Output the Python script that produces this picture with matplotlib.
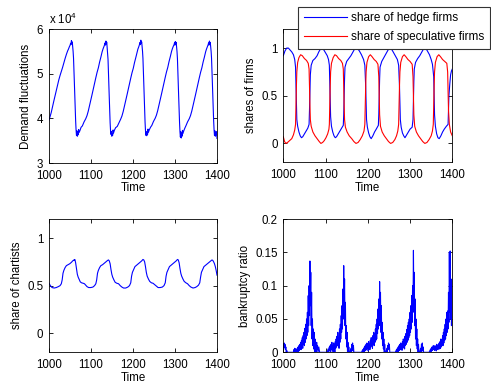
import matplotlib
matplotlib.use("Agg")
import matplotlib.pyplot as plt
from matplotlib.ticker import FuncFormatter

plt.rcParams['font.family'] = ['Liberation Sans', 'DejaVu Sans']
plt.rcParams['font.size'] = 8.3

# ---------------- demand fluctuations (raw units) ----------------
demand_time = [
    1000, 1003, 1006, 1009, 1012, 1015, 1018, 1021, 1024, 1027, 1030, 1033, 1036, 1039, 1042, 1045,
    1047, 1049, 1051, 1052, 1053, 1054,
    1055, 1056, 1057, 1058, 1059, 1060, 1061, 1062, 1063, 1064, 1065, 1066, 1067, 1068, 1069, 1070, 1071, 1072,
    1074, 1077,
    1080, 1084, 1088, 1091, 1094, 1097, 1100, 1103, 1106, 1109, 1112, 1115, 1118, 1121, 1124, 1127,
    1129, 1131, 1133, 1134, 1135, 1136,
    1137, 1138, 1139, 1140, 1141, 1142, 1143, 1144, 1145, 1146, 1147, 1148, 1149, 1150, 1151, 1152, 1153, 1154,
    1156, 1159,
    1163, 1167, 1171, 1174, 1177, 1180, 1183, 1186, 1189, 1192, 1195, 1198, 1201, 1204, 1207, 1210,
    1212, 1214, 1216, 1217, 1218, 1219,
    1220, 1221, 1222, 1223, 1224, 1225, 1226, 1227, 1228, 1229, 1230, 1231, 1232, 1233, 1234, 1235, 1236, 1237,
    1239, 1242,
    1245, 1249, 1253, 1256, 1259, 1262, 1265, 1268, 1271, 1274, 1277, 1280, 1283, 1286, 1289, 1292,
    1294, 1296, 1298, 1299, 1300, 1301,
    1302, 1303, 1304, 1305, 1306, 1307, 1308, 1309, 1310, 1311, 1312, 1313, 1314, 1315, 1316, 1317, 1318, 1319,
    1321, 1324,
    1326, 1330, 1334, 1337, 1340, 1343, 1346, 1349, 1352, 1355, 1358, 1361, 1364, 1367, 1370, 1373,
    1375, 1377, 1379, 1380, 1381, 1382,
    1383, 1384, 1385, 1386, 1387, 1388, 1389, 1390, 1391, 1392, 1393, 1394, 1395, 1396, 1397, 1398, 1399, 1400,
]
demand = [
    39500, 40300, 41300, 42600, 43800, 45000, 46200, 47400, 48600, 49600, 50500, 51400, 52400, 53400, 54300, 55100,
    55500, 56000, 56400, 56800, 56500, 57400,
    56800, 57100, 56000, 55000, 53500, 51000, 48000, 45000, 42000, 39500, 37500, 36200, 37200, 36000, 36800, 36300, 37500, 36800,
    37200, 38000,
    38300, 39200, 39900, 40600, 41600, 42800, 44000, 45300, 46600, 47900, 49100, 50300, 51300, 52600, 53700, 54900,
    55500, 56000, 56500, 56900, 56400, 57300,
    56700, 57000, 55800, 54800, 53200, 50500, 47500, 44500, 41500, 39000, 37200, 36400, 37000, 36000, 36600, 36200, 37400, 36700,
    37300, 37900,
    38200, 39000, 39800, 40500, 41500, 42700, 44000, 45200, 46500, 47800, 49000, 50200, 51200, 52500, 53600, 54800,
    55500, 56000, 56600, 57000, 56500, 57500,
    56800, 57100, 56000, 55000, 53400, 50800, 47800, 44800, 41800, 39200, 37300, 36200, 37000, 36100, 36800, 36400, 37600, 36900,
    37400, 38000,
    38400, 39300, 40000, 40700, 41700, 42900, 44100, 45400, 46700, 48000, 49200, 50400, 51400, 52700, 53800, 55000,
    55600, 56100, 56500, 56900, 56400, 57200,
    56700, 57000, 55900, 54900, 53300, 50600, 47600, 44600, 41600, 39000, 37000, 35800, 37000, 35600, 36600, 36000, 37300, 36600,
    37200, 37900,
    38300, 39200, 39900, 40600, 41600, 42800, 44000, 45300, 46600, 47900, 49100, 50300, 51300, 52600, 53700, 54900,
    55500, 56000, 56500, 56900, 56400, 57300,
    56700, 57000, 56000, 55000, 53500, 51000, 48000, 45000, 42000, 39500, 37500, 36200, 37200, 36000, 36800, 36300, 37000, 35500,
]

# ---------------- shares of hedge / speculative firms ----------------
hedge_time = [
    1000, 1004, 1008, 1012, 1016, 1020, 1024, 1027, 1029, 1030, 1031, 1032, 1034, 1037, 1040, 1043, 1046, 1050,
    1054, 1058, 1061, 1062, 1063, 1064, 1066, 1070, 1075, 1080, 1084, 1088, 1092, 1096, 1100, 1104, 1107, 1109,
    1110, 1111, 1112, 1114, 1117, 1120, 1123, 1126, 1130, 1134, 1138, 1142, 1143, 1144, 1145, 1146, 1150, 1155,
    1160, 1165, 1170, 1175, 1180, 1185, 1190, 1193, 1195, 1196, 1197, 1199, 1202, 1205, 1208, 1212, 1216, 1220,
    1225, 1226, 1227, 1228, 1229, 1233, 1238, 1243, 1248, 1252, 1256, 1260, 1265, 1270, 1273, 1275, 1276, 1277,
    1279, 1282, 1285, 1288, 1292, 1296, 1300, 1305, 1307, 1308, 1309, 1310, 1313, 1318, 1323, 1328, 1333, 1337,
    1341, 1346, 1350, 1353, 1356, 1357, 1358, 1360, 1363, 1366, 1369, 1373, 1377, 1381, 1386, 1390, 1391, 1392,
    1394, 1396, 1398, 1400,
]
hedge_share = [
    0.92, 0.97, 1.0, 1.0, 0.98, 0.96, 0.93, 0.88, 0.8, 0.6, 0.4, 0.25, 0.18, 0.12, 0.08, 0.06, 0.07, 0.1,
    0.13, 0.16, 0.2, 0.35, 0.55, 0.72, 0.82, 0.87, 0.89, 0.92, 0.96, 0.99, 1.0, 0.98, 0.95, 0.92, 0.88, 0.82,
    0.65, 0.45, 0.28, 0.18, 0.12, 0.08, 0.06, 0.07, 0.1, 0.13, 0.16, 0.19, 0.3, 0.5, 0.68, 0.8, 0.86, 0.89,
    0.92, 0.96, 1.0, 1.0, 0.97, 0.93, 0.88, 0.82, 0.6, 0.4, 0.25, 0.17, 0.11, 0.07, 0.05, 0.08, 0.12, 0.15,
    0.19, 0.3, 0.5, 0.68, 0.8, 0.86, 0.9, 0.94, 0.98, 1.0, 0.99, 0.96, 0.92, 0.88, 0.82, 0.6, 0.4, 0.25,
    0.17, 0.11, 0.08, 0.06, 0.09, 0.12, 0.15, 0.17, 0.25, 0.45, 0.65, 0.78, 0.85, 0.89, 0.92, 0.96, 1.0, 1.0,
    0.97, 0.93, 0.88, 0.83, 0.7, 0.5, 0.3, 0.18, 0.1, 0.06, 0.05, 0.08, 0.12, 0.15, 0.18, 0.2, 0.35, 0.5,
    0.62, 0.72, 0.76, 0.78,
]
spec_time = [
    1000, 1003, 1006, 1010, 1015, 1020, 1024, 1027, 1029, 1030, 1031, 1032, 1034, 1037, 1041, 1045, 1050, 1055,
    1059, 1061, 1062, 1063, 1064, 1066, 1070, 1075, 1080, 1085, 1089, 1093, 1097, 1101, 1105, 1108, 1109, 1110,
    1111, 1112, 1114, 1118, 1122, 1126, 1131, 1136, 1140, 1142, 1143, 1144, 1145, 1147, 1151, 1156, 1162, 1167,
    1172, 1177, 1182, 1187, 1191, 1193, 1194, 1195, 1196, 1198, 1202, 1206, 1210, 1215, 1220, 1224, 1226, 1227,
    1228, 1230, 1234, 1239, 1244, 1249, 1254, 1259, 1264, 1268, 1271, 1273, 1274, 1275, 1276, 1278, 1282, 1286,
    1290, 1295, 1300, 1305, 1307, 1308, 1309, 1311, 1315, 1320, 1325, 1330, 1335, 1340, 1345, 1350, 1353, 1355,
    1356, 1357, 1358, 1360, 1364, 1368, 1372, 1377, 1382, 1387, 1389, 1390, 1391, 1393, 1396, 1400,
]
spec_share = [
    0.07, 0.02, 0.0, 0.01, 0.03, 0.05, 0.09, 0.14, 0.2, 0.4, 0.6, 0.75, 0.85, 0.9, 0.93, 0.92, 0.89, 0.87,
    0.84, 0.78, 0.6, 0.4, 0.25, 0.18, 0.12, 0.08, 0.05, 0.02, 0.0, 0.01, 0.03, 0.06, 0.1, 0.15, 0.2, 0.4,
    0.6, 0.75, 0.84, 0.9, 0.93, 0.92, 0.89, 0.87, 0.84, 0.78, 0.6, 0.4, 0.25, 0.17, 0.12, 0.08, 0.05, 0.02,
    0.0, 0.01, 0.04, 0.08, 0.13, 0.2, 0.4, 0.6, 0.75, 0.85, 0.91, 0.93, 0.91, 0.88, 0.86, 0.83, 0.7, 0.5,
    0.3, 0.18, 0.12, 0.08, 0.05, 0.02, 0.0, 0.01, 0.04, 0.08, 0.13, 0.2, 0.4, 0.6, 0.75, 0.85, 0.91, 0.93,
    0.91, 0.88, 0.86, 0.83, 0.7, 0.5, 0.3, 0.18, 0.12, 0.08, 0.05, 0.02, 0.0, 0.01, 0.04, 0.08, 0.13, 0.2,
    0.4, 0.6, 0.75, 0.85, 0.91, 0.93, 0.91, 0.88, 0.86, 0.84, 0.75, 0.55, 0.35, 0.2, 0.12, 0.08,
]

# ---------------- share of chartists ----------------
chartist_time = [
    1000, 1004, 1008, 1013, 1018, 1023, 1027, 1030, 1032, 1034, 1036, 1039, 1042, 1046, 1050, 1054, 1057, 1060,
    1061, 1062, 1063, 1064, 1066, 1068, 1070, 1072, 1075, 1078, 1082, 1085, 1088, 1091, 1095, 1100, 1105, 1109,
    1112, 1114, 1116, 1118, 1121, 1124, 1128, 1132, 1136, 1140, 1142, 1144, 1146, 1148, 1150, 1152, 1155, 1158,
    1162, 1166, 1170, 1174, 1178, 1183, 1188, 1192, 1195, 1197, 1199, 1202, 1205, 1209, 1213, 1217, 1221, 1224,
    1226, 1228, 1230, 1232, 1234, 1237, 1240, 1244, 1248, 1252, 1256, 1260, 1265, 1270, 1274, 1277, 1279, 1281,
    1284, 1287, 1291, 1295, 1299, 1303, 1306, 1308, 1310, 1312, 1314, 1316, 1319, 1322, 1326, 1330, 1334, 1338,
    1343, 1348, 1352, 1356, 1359, 1361, 1363, 1366, 1369, 1373, 1377, 1381, 1385, 1388, 1390, 1392, 1394, 1396,
    1398, 1400,
]
chartist_share = [
    0.53, 0.5, 0.48, 0.475, 0.48, 0.49, 0.5, 0.52, 0.56, 0.63, 0.66, 0.69, 0.71, 0.72, 0.73, 0.745, 0.76, 0.77,
    0.765, 0.775, 0.76, 0.74, 0.68, 0.62, 0.59, 0.57, 0.54, 0.53, 0.525, 0.52, 0.505, 0.49, 0.48, 0.48, 0.485, 0.5,
    0.52, 0.56, 0.63, 0.66, 0.69, 0.71, 0.72, 0.735, 0.75, 0.765, 0.77, 0.76, 0.73, 0.67, 0.62, 0.59, 0.56, 0.535,
    0.525, 0.52, 0.5, 0.485, 0.475, 0.475, 0.485, 0.5, 0.53, 0.6, 0.64, 0.67, 0.7, 0.715, 0.73, 0.745, 0.76, 0.775,
    0.77, 0.75, 0.7, 0.64, 0.6, 0.57, 0.545, 0.53, 0.525, 0.51, 0.495, 0.48, 0.48, 0.485, 0.5, 0.53, 0.6, 0.64,
    0.67, 0.7, 0.715, 0.73, 0.745, 0.76, 0.775, 0.77, 0.74, 0.68, 0.63, 0.6, 0.57, 0.545, 0.53, 0.52, 0.5, 0.485,
    0.475, 0.48, 0.49, 0.505, 0.53, 0.59, 0.64, 0.67, 0.7, 0.715, 0.73, 0.745, 0.76, 0.77, 0.765, 0.75, 0.73, 0.7,
    0.66, 0.61,
]

# ---------------- bankruptcy ratio ----------------
bankrupt_time = [
    1000, 1001, 1002, 1003, 1004, 1005, 1006, 1007, 1008, 1010, 1015, 1020, 1024, 1025, 1026, 1027, 1028, 1029, 1030,
    1031, 1032, 1033, 1034, 1035, 1036, 1037, 1038, 1039, 1040, 1041, 1042, 1043, 1044, 1045, 1046, 1047, 1048, 1049,
    1050, 1051, 1052, 1053, 1054, 1055, 1056, 1057, 1058, 1059, 1060, 1061, 1062, 1063, 1064, 1065, 1066, 1067, 1068,
    1069, 1070, 1071, 1072, 1073, 1074, 1075, 1076, 1077, 1078, 1079, 1080, 1081, 1082, 1084, 1086,
    1088, 1092, 1095, 1100, 1104, 1106, 1107, 1109, 1110, 1111, 1112, 1113, 1114, 1115, 1116, 1117, 1118,
    1119, 1120, 1121, 1122, 1123, 1124, 1125, 1126, 1127, 1128, 1129, 1130, 1131, 1132, 1133, 1134, 1135, 1136, 1137,
    1138, 1139, 1140, 1141, 1142, 1143, 1144, 1145, 1146, 1147, 1148, 1149, 1150, 1151, 1152, 1153, 1154, 1155, 1156,
    1158, 1160, 1161, 1162, 1163, 1164, 1165, 1166, 1167, 1170,
    1175, 1180, 1185, 1188, 1189, 1190, 1191, 1192, 1193, 1194, 1195,
    1196, 1197, 1198, 1199, 1200, 1201, 1202, 1203, 1204, 1205, 1206, 1207, 1208, 1209, 1210, 1211, 1212, 1213, 1214,
    1215, 1216, 1217, 1218, 1219, 1220, 1221, 1222, 1223, 1224, 1225, 1226, 1227, 1228, 1229, 1230, 1231, 1232, 1233,
    1234, 1235, 1236, 1237, 1238, 1239, 1240, 1241, 1243, 1245, 1246, 1247, 1248, 1249, 1250, 1251, 1252, 1255,
    1260, 1265, 1268, 1269, 1270, 1271, 1272, 1273, 1274, 1275,
    1276, 1277, 1278, 1279, 1280, 1281, 1282, 1283, 1284, 1285, 1286, 1287, 1288, 1289, 1290, 1291, 1292, 1293, 1294,
    1295, 1296, 1297, 1298, 1299, 1300, 1301, 1302, 1303, 1304, 1305, 1306, 1307, 1308, 1309, 1310, 1311, 1312, 1313,
    1314, 1315, 1316, 1317, 1318, 1319, 1320, 1321, 1323, 1325, 1326, 1327, 1328, 1329, 1330, 1331, 1332, 1335,
    1340, 1345, 1348, 1349, 1350, 1351, 1352, 1353, 1354,
    1355, 1356, 1357, 1358, 1359, 1360, 1361, 1362, 1363, 1364, 1365, 1366, 1367, 1368, 1369, 1370, 1371, 1372, 1373,
    1374, 1375, 1376, 1377, 1378, 1379, 1380, 1381, 1382, 1383, 1384, 1385, 1386, 1387, 1388, 1389, 1390, 1391, 1392,
    1393, 1394, 1395, 1396, 1397, 1398, 1399, 1400,
]
bankrupt_ratio = [
    0.012, 0.006, 0.014, 0.008, 0.012, 0.004, 0.008, 0.0, 0.003, 0.0, 0.0, 0.0, 0.0, 0.004, 0.0, 0.006, 0.0, 0.005, 0.0,
    0.004, 0.0, 0.006, 0.002, 0.008, 0.0, 0.01, 0.003, 0.012, 0.005, 0.015, 0.004, 0.018, 0.008, 0.022, 0.006, 0.025, 0.012, 0.03,
    0.01, 0.036, 0.015, 0.042, 0.02, 0.05, 0.025, 0.06, 0.03, 0.085, 0.04, 0.1, 0.055, 0.137, 0.07, 0.12, 0.04, 0.09, 0.02,
    0.05, 0.01, 0.035, 0.005, 0.03, 0.0, 0.02, 0.0, 0.012, 0.0, 0.015, 0.004, 0.01, 0.0, 0.008, 0.0,
    0.0, 0.0, 0.0, 0.0, 0.0, 0.005, 0.0, 0.008, 0.002, 0.01, 0.0, 0.012, 0.004, 0.015, 0.003, 0.01, 0.0,
    0.014, 0.004, 0.012, 0.0, 0.016, 0.006, 0.02, 0.008, 0.024, 0.01, 0.03, 0.012, 0.022, 0.006, 0.035, 0.015, 0.042, 0.02, 0.055,
    0.03, 0.07, 0.035, 0.095, 0.05, 0.13, 0.06, 0.11, 0.04, 0.075, 0.02, 0.04, 0.008, 0.03, 0.0, 0.015, 0.0, 0.008, 0.0,
    0.0, 0.006, 0.0, 0.012, 0.004, 0.014, 0.002, 0.01, 0.0, 0.0,
    0.0, 0.0, 0.0, 0.004, 0.0, 0.006, 0.0, 0.008, 0.002, 0.01, 0.003,
    0.012, 0.004, 0.014, 0.006, 0.01, 0.002, 0.016, 0.006, 0.012, 0.004, 0.018, 0.008, 0.022, 0.01, 0.02, 0.006, 0.025, 0.012, 0.03,
    0.01, 0.028, 0.015, 0.035, 0.018, 0.042, 0.02, 0.05, 0.028, 0.065, 0.035, 0.08, 0.04, 0.106, 0.05, 0.09, 0.03, 0.07, 0.02,
    0.045, 0.01, 0.03, 0.005, 0.02, 0.0, 0.012, 0.0, 0.0, 0.006, 0.0, 0.01, 0.004, 0.014, 0.006, 0.012, 0.0, 0.0,
    0.0, 0.0, 0.004, 0.0, 0.006, 0.0, 0.008, 0.002, 0.01, 0.003,
    0.012, 0.004, 0.014, 0.006, 0.012, 0.003, 0.016, 0.006, 0.02, 0.008, 0.018, 0.005, 0.024, 0.01, 0.028, 0.012, 0.034, 0.015, 0.04,
    0.018, 0.045, 0.022, 0.05, 0.025, 0.06, 0.03, 0.07, 0.035, 0.085, 0.045, 0.1, 0.06, 0.153, 0.07, 0.12, 0.04, 0.08, 0.02,
    0.05, 0.01, 0.035, 0.005, 0.02, 0.0, 0.012, 0.0, 0.0, 0.006, 0.0, 0.012, 0.004, 0.014, 0.002, 0.008, 0.0, 0.0,
    0.0, 0.0, 0.004, 0.0, 0.006, 0.002, 0.008, 0.003, 0.006,
    0.01, 0.004, 0.008, 0.003, 0.01, 0.004, 0.008, 0.002, 0.012, 0.005, 0.01, 0.004, 0.012, 0.006, 0.014, 0.005, 0.016, 0.006, 0.02,
    0.008, 0.018, 0.01, 0.025, 0.01, 0.03, 0.014, 0.035, 0.018, 0.042, 0.02, 0.05, 0.025, 0.06, 0.03, 0.062, 0.035, 0.09, 0.045,
    0.15, 0.06, 0.152, 0.05, 0.11, 0.04, 0.08, 0.058,
]

time_ticks = [1000, 1100, 1200, 1300, 1400]

fig = plt.figure(figsize=(4.91, 3.84), dpi=100)
W, H = 491.0, 384.0


def make_axes(x0, y0, x1, y1):
    ax = fig.add_axes([x0 / W, 1 - y1 / H, (x1 - x0) / W, (y1 - y0) / H])
    ax.tick_params(direction='in', top=True, right=True, length=3, width=0.6)
    ax.tick_params(axis='x', pad=4.8)
    ax.tick_params(axis='y', pad=4)
    for s in ax.spines.values():
        s.set_linewidth(0.6)
    ax.set_xlim(1000, 1400)
    ax.set_xticks(time_ticks)
    ax.set_xlabel('Time', labelpad=0.5)
    return ax


gfmt = FuncFormatter(lambda v, p: '%g' % round(v, 4))

# demand
ax1 = make_axes(48.7, 29, 217, 163)
ax1.plot(demand_time, demand, color='#0000ff', lw=0.8)
ax1.set_ylim(30000, 60000)
ax1.set_yticks([30000, 40000, 50000, 60000])
ax1.yaxis.set_major_formatter(FuncFormatter(lambda v, p: '%g' % (v / 1e4)))
ax1.set_ylabel('Demand fluctuations', labelpad=3)
ax1.text(0.0, 1.015, r'x 10$^{\mathregular{4}}$', transform=ax1.transAxes,
         ha='left', va='bottom', fontsize=8.3)

# firm shares
ax2 = make_axes(283.3, 29, 452.3, 162.5)
l1, = ax2.plot(hedge_time, hedge_share, color='#0000ff', lw=0.8)
l2, = ax2.plot(spec_time, spec_share, color='#ff0000', lw=0.8)
ax2.set_ylim(-0.2, 1.2)
ax2.set_yticks([0, 0.5, 1])
ax2.yaxis.set_major_formatter(gfmt)
ax2.set_ylabel('shares of firms', labelpad=3)
leg = fig.legend([l1, l2], ['share of hedge firms', 'share of speculative firms'],
                 loc='upper right', bbox_to_anchor=(490 / W, 1 - 6.5 / H),
                 fancybox=False, framealpha=1, edgecolor='#333333',
                 handlelength=3.6, handletextpad=0.35, labelspacing=0.6,
                 borderpad=0.5, borderaxespad=0, fontsize=8.5)
leg.get_frame().set_linewidth(0.8)

# chartists
ax3 = make_axes(48.7, 219, 217, 352.3)
ax3.plot(chartist_time, chartist_share, color='#0000ff', lw=0.8)
ax3.set_ylim(-0.2, 1.2)
ax3.set_yticks([0, 0.5, 1])
ax3.yaxis.set_major_formatter(gfmt)
ax3.set_ylabel('share of chartists', labelpad=3)

# bankruptcy
ax4 = make_axes(283.3, 219, 452.3, 352.3)
ax4.plot(bankrupt_time, bankrupt_ratio, color='#0000ff', lw=0.8)
ax4.set_ylim(0, 0.2)
ax4.set_yticks([0, 0.05, 0.1, 0.15, 0.2])
ax4.yaxis.set_major_formatter(gfmt)
ax4.set_ylabel('bankruptcy ratio', labelpad=3)

fig.savefig('out.png', dpi=100)
